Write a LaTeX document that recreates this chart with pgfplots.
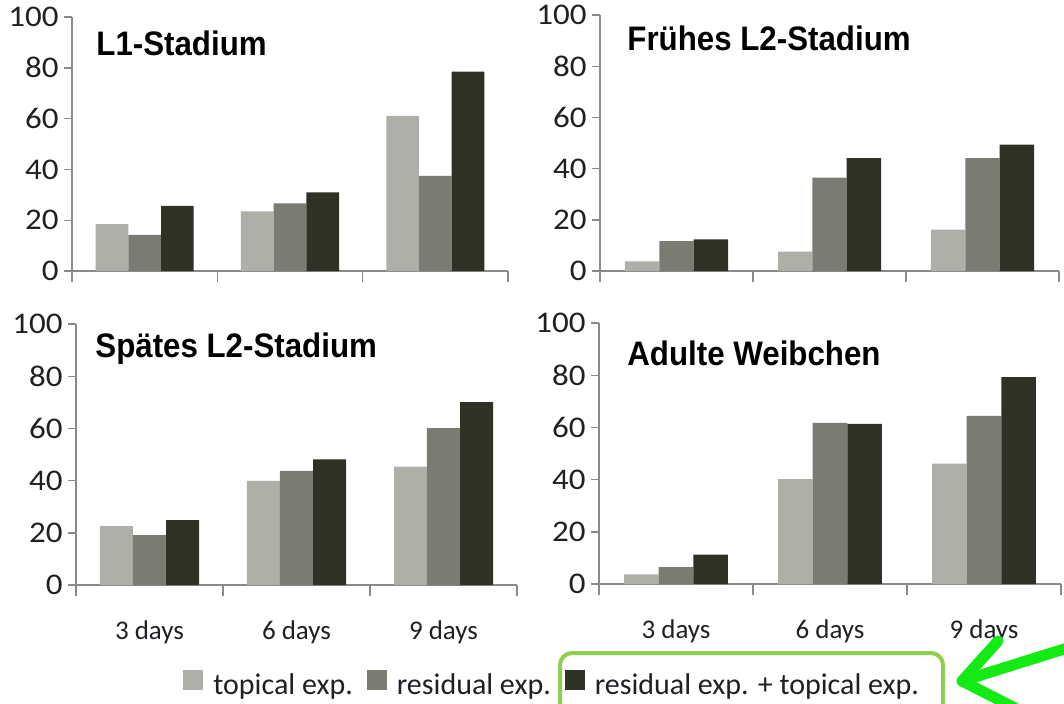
\documentclass[border=0pt]{standalone}
\usepackage{fontspec}
\setmainfont{Carlito}
\newfontfamily\arial{Liberation Sans}
\usepackage{graphicx}
\usepackage{pgfplots}
\usepackage{pgfplotstable}
\pgfplotsset{compat=1.18}

\definecolor{topc}{HTML}{AEAFA8}
\definecolor{resc}{HTML}{7A7B72}
\definecolor{combc}{HTML}{2F3124}
\definecolor{axisgray}{HTML}{8A8A8A}
\definecolor{labc}{HTML}{1E2024}
\definecolor{boxgreen}{HTML}{8DCF50}
\definecolor{arrowgreen}{HTML}{14EA14}

% x: 0 = 3 days, 1 = 6 days, 2 = 9 days
\pgfplotstableread{
x top res comb
0 18.5 14.2 25.6
1 23.5 26.6 31.0
2 61.1 37.5 78.5
}\tabLone
\pgfplotstableread{
x top res comb
0 3.8 11.7 12.4
1 7.6 36.5 44.1
2 16.2 44.1 49.4
}\tabLtwoEarly
\pgfplotstableread{
x top res comb
0 22.6 19.1 24.9
1 39.9 43.7 48.1
2 45.4 60.1 70.1
}\tabLtwoLate
\pgfplotstableread{
x top res comb
0 3.7 6.5 11.3
1 40.2 61.7 61.4
2 46.1 64.4 79.3
}\tabAdult

\pgfplotsset{
  panel/.style={
    scale only axis,
    anchor=south west,
    ybar=0pt, bar width=0.225,
    ymin=0, ymax=100, xmin=-0.5, xmax=2.5,
    axis x line=bottom, axis y line=left,
    axis line style={-, draw=axisgray, line width=0.7pt},
    ytick={0,20,...,100},
    xtick={0,1,2},
    minor xtick={-0.5,0.5,1.5,2.5},
    tick align=outside,
    tick style={draw=axisgray, line width=0.7pt},
    major x tick style={draw=none},
    major tick length=4pt, minor tick length=5.5pt,
    /pgf/number format/assume math mode=true,
    yticklabel={\scalebox{1.1}[1]{\pgfmathprintnumber{\tick}}},
    yticklabel style={font=\fontsize{15pt}{17pt}\selectfont, text=labc,
      inner sep=0pt, anchor=east, xshift=-2.5pt},
    xticklabel style={font=\fontsize{13.5pt}{16pt}\selectfont, text=labc,
      inner sep=0pt, anchor=base, yshift=-23pt},
    every axis plot/.append style={draw=none},
    legend image code/.code={\fill[##1] (0pt,-2.5pt) rectangle (10pt,7.5pt);},
  },
  toplabels/.style={xticklabels={,,}},
  botlabels/.style={xticklabels={3 days,6 days,9 days}},
}

\newcommand{\paneltitle}[1]{\scalebox{0.92}[1]{\arial\bfseries\fontsize{17pt}{20pt}\selectfont #1}}

\begin{document}
\begin{tikzpicture}
\path[use as bounding box] (0,0) rectangle (532pt,-351.5pt);

\begin{axis}[panel, toplabels, at={(36pt,-135.5pt)}, width=218pt, height=127pt]
  \addplot[fill=topc] table[x=x, y=top] {\tabLone};
  \addplot[fill=resc] table[x=x, y=res] {\tabLone};
  \addplot[fill=combc] table[x=x, y=comb] {\tabLone};
\end{axis}

\begin{axis}[panel, toplabels, at={(300pt,-135.5pt)}, width=229.5pt, height=128pt]
  \addplot[fill=topc] table[x=x, y=top] {\tabLtwoEarly};
  \addplot[fill=resc] table[x=x, y=res] {\tabLtwoEarly};
  \addplot[fill=combc] table[x=x, y=comb] {\tabLtwoEarly};
\end{axis}

\begin{axis}[panel, botlabels, at={(38pt,-292.5pt)}, width=220.5pt, height=130.5pt,
  legend columns=-1,
  legend style={at={(0.2426,-0.378)}, anchor=west, draw=none, fill=none,
    inner sep=0pt, font=\fontsize{15pt}{18pt}\selectfont, text=labc,
    nodes={inner sep=0pt},
    /tikz/every odd column/.append style={column sep=5pt},
    /tikz/every even column/.append style={column sep=7pt}}]
  \addplot[fill=topc] table[x=x, y=top] {\tabLtwoLate};
  \addplot[fill=resc] table[x=x, y=res] {\tabLtwoLate};
  \addplot[fill=combc] table[x=x, y=comb] {\tabLtwoLate};
  \legend{topical exp., residual exp., residual exp. + topical exp.}
\end{axis}

\begin{axis}[panel, botlabels, at={(299.5pt,-292pt)}, width=231pt, height=130.5pt]
  \addplot[fill=topc] table[x=x, y=top] {\tabAdult};
  \addplot[fill=resc] table[x=x, y=res] {\tabAdult};
  \addplot[fill=combc] table[x=x, y=comb] {\tabAdult};
\end{axis}

\node[anchor=base west, inner sep=0pt] at (48pt,-27.5pt) {\paneltitle{L1-Stadium}};
\node[anchor=base west, inner sep=0pt] at (313.5pt,-25pt) {\paneltitle{Frühes L2-Stadium}};
\node[anchor=base west, inner sep=0pt] at (47.5pt,-178.5pt) {\paneltitle{Spätes L2-Stadium}};
\node[anchor=base west, inner sep=0pt] at (313.5pt,-182.5pt) {\paneltitle{Adulte Weibchen}};

% highlight box and arrow
\draw[boxgreen, line width=2pt, rounded corners=6pt] (280pt,-326.5pt) rectangle (471.5pt,-365pt);
\draw[arrowgreen, line width=5.5pt, line cap=round, line join=round]
  (499pt,-320.5pt) -- (481pt,-340.5pt) -- (507.5pt,-354pt);
\draw[arrowgreen, line width=5.5pt, line cap=round] (481pt,-340.5pt) -- (540pt,-322pt);
\end{tikzpicture}
\end{document}
